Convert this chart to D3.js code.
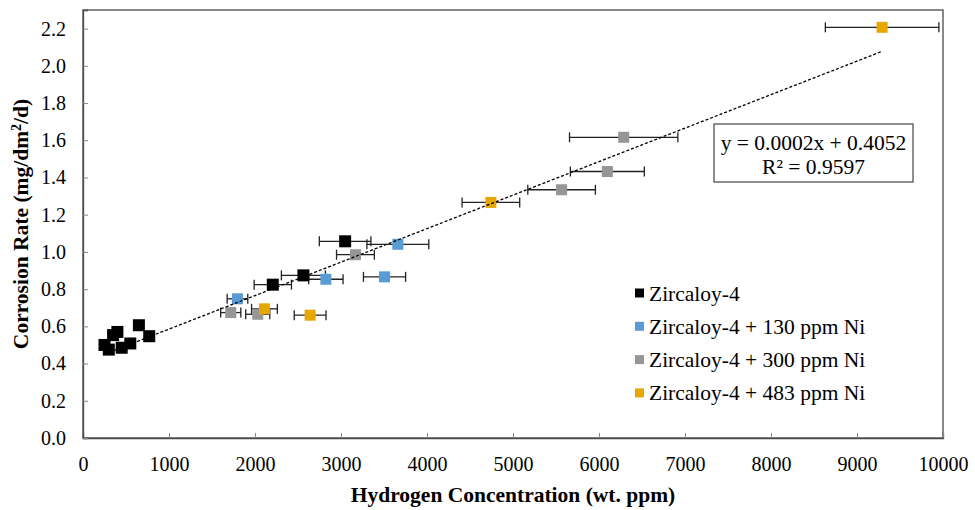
<!doctype html>
<html lang="en">
<head>
<meta charset="utf-8">
<title>Corrosion rate vs hydrogen concentration</title>
<style>
  body { margin: 0; background: #fff; }
  svg text { font-family: "Liberation Serif", "Times New Roman", "DejaVu Serif", serif; fill: #000; }
</style>
</head>
<body>
<svg id="chart" width="975" height="510"></svg>
<script src="https://cdn.jsdelivr.net/npm/d3@7"></script>
<script>
// series names and colours
var seriesNames = ["Zircaloy-4", "Zircaloy-4 + 130 ppm Ni", "Zircaloy-4 + 300 ppm Ni", "Zircaloy-4 + 483 ppm Ni"];
var seriesColors = ["#000000", "#5b9bd5", "#969696", "#e6a800"];

// Zircaloy-4
var zr4X   = [250, 300, 350, 400, 450, 550, 650, 770, 2207, 2563, 3048];
var zr4Y   = [0.50, 0.475, 0.553, 0.57, 0.485, 0.508, 0.606, 0.547, 0.824, 0.874, 1.057];
var zr4Err = [0, 0, 0, 0, 0, 0, 0, 0, 217, 256, 300];
// + 130 ppm Ni
var ni130X   = [1796, 2824, 3506, 3661];
var ni130Y   = [0.748, 0.853, 0.866, 1.041];
var ni130Err = [120, 200, 245, 360];
// + 300 ppm Ni
var ni300X   = [1718, 2032, 3168, 5565, 6097, 6287];
var ni300Y   = [0.674, 0.665, 0.985, 1.334, 1.432, 1.616];
var ni300Err = [117, 140, 220, 393, 430, 630];
// + 483 ppm Ni
var ni483X   = [2110, 2641, 4743, 9292];
var ni483Y   = [0.694, 0.66, 1.266, 2.207];
var ni483Err = [150, 185, 335, 660];

// linear trendline over all points
var trendSlope = 0.00018;
var trendIntercept = 0.4052;
var trendLabel = ["y = 0.0002x + 0.4052", "R² = 0.9597"];

var xTicks = [0, 1000, 2000, 3000, 4000, 5000, 6000, 7000, 8000, 9000, 10000];
var yTicks = [0.0, 0.2, 0.4, 0.6, 0.8, 1.0, 1.2, 1.4, 1.6, 1.8, 2.0, 2.2];

var allX = [zr4X, ni130X, ni300X, ni483X];
var allY = [zr4Y, ni130Y, ni300Y, ni483Y];
var allErr = [zr4Err, ni130Err, ni300Err, ni483Err];

var serif = '"Liberation Serif", "Times New Roman", "DejaVu Serif", serif';

var margin = {top: 10, right: 32, bottom: 72, left: 83};
var width = 975 - margin.left - margin.right;
var height = 510 - margin.top - margin.bottom;

var svg = d3.select("#chart");
var g = svg.append("g").attr("transform", "translate(" + margin.left + "," + margin.top + ")");

var x = d3.scaleLinear().domain([0, 10000]).range([0, width]);
var y = d3.scaleLinear().domain([0, 2.3]).range([height, 0]);

// plot frame
g.append("rect")
  .attr("x", 0).attr("y", 0)
  .attr("width", width).attr("height", height)
  .attr("fill", "none")
  .attr("stroke", "#4a4a4a")
  .attr("stroke-width", 1.3);

var xAxis = g.append("g")
  .attr("transform", "translate(0," + height + ")")
  .call(d3.axisBottom(x).tickValues(xTicks).tickSize(-5).tickPadding(19).tickFormat(d3.format("d")));
var yAxis = g.append("g")
  .call(d3.axisLeft(y).tickValues(yTicks).tickSize(-5).tickPadding(17).tickFormat(d3.format(".1f")));

[xAxis, yAxis].forEach(function(ax) {
  ax.attr("font-family", serif).attr("font-size", 20);
  ax.select(".domain").attr("stroke", "#4a4a4a").attr("stroke-width", 1.3);
  ax.selectAll(".tick line").attr("stroke", "#868686");
});

// error bars
for (var s = 0; s < 4; s++) {
  for (var i = 0; i < allX[s].length; i++) {
    var e = allErr[s][i];
    if (!e) continue;
    var x0 = x(allX[s][i] - e), x1 = x(allX[s][i] + e), yy = y(allY[s][i]);
    g.append("line").attr("x1", x0).attr("x2", x1).attr("y1", yy).attr("y2", yy)
      .attr("stroke", "#222").attr("stroke-width", 1.3);
    [x0, x1].forEach(function(cx) {
      g.append("line").attr("x1", cx).attr("x2", cx).attr("y1", yy - 5).attr("y2", yy + 5)
        .attr("stroke", "#222").attr("stroke-width", 1.3);
    });
  }
}

// markers
var markerSize = [12, 11, 11, 11];
for (var s = 0; s < 4; s++) {
  for (var i = 0; i < allX[s].length; i++) {
    var m = markerSize[s];
    g.append("rect")
      .attr("x", x(allX[s][i]) - m / 2)
      .attr("y", y(allY[s][i]) - m / 2)
      .attr("width", m).attr("height", m)
      .attr("fill", seriesColors[s]);
  }
}

// trendline
var minX = d3.min(allX, function(a) { return d3.min(a); });
var maxX = d3.max(allX, function(a) { return d3.max(a); });
g.append("line")
  .attr("x1", x(minX)).attr("y1", y(trendSlope * minX + trendIntercept))
  .attr("x2", x(maxX)).attr("y2", y(trendSlope * maxX + trendIntercept))
  .attr("stroke", "#000").attr("stroke-width", 1.3)
  .attr("stroke-dasharray", "3,2");

// equation box
var eqBox = g.append("g").attr("transform", "translate(" + (714 - margin.left) + "," + (124 - margin.top) + ")");
eqBox.append("rect").attr("width", 199).attr("height", 58)
  .attr("fill", "#fff").attr("stroke", "#444").attr("stroke-width", 1.2);
trendLabel.forEach(function(t, i) {
  eqBox.append("text")
    .attr("x", 99.5).attr("y", 26 + i * 24)
    .attr("text-anchor", "middle")
    .attr("font-size", 21.5)
    .text(t);
});

// legend
var legend = g.append("g").attr("transform", "translate(" + (635 - margin.left) + "," + (293 - margin.top) + ")");
seriesNames.forEach(function(name, i) {
  var row = legend.append("g").attr("transform", "translate(0," + (i * 33.3) + ")");
  row.append("rect").attr("x", 0).attr("y", -4.5).attr("width", 9).attr("height", 9)
    .attr("fill", seriesColors[i]);
  row.append("text").attr("x", 14).attr("y", 7.5).attr("font-size", 21.5).text(name);
});

// axis titles
svg.append("text")
  .attr("x", margin.left + width / 2).attr("y", 502)
  .attr("text-anchor", "middle")
  .attr("font-size", 21.5).attr("font-weight", "bold")
  .text("Hydrogen Concentration (wt. ppm)");

var yTitle = svg.append("text")
  .attr("transform", "translate(28," + (margin.top + height / 2) + ") rotate(-90)")
  .attr("text-anchor", "middle")
  .attr("font-size", 21.5).attr("font-weight", "bold");
yTitle.append("tspan").text("Corrosion Rate (mg/dm");
yTitle.append("tspan").attr("baseline-shift", "super").attr("font-size", 14).text("2");
yTitle.append("tspan").text("/d)");
</script>
</body>
</html>
